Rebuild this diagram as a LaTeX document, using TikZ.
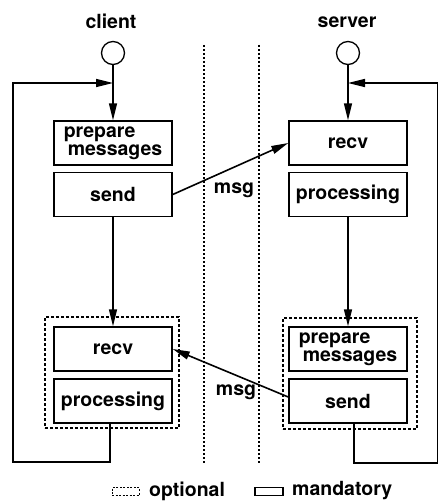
\documentclass[tikz,border=0pt]{standalone}
\usepackage{fontspec}
\setmainfont{TeX Gyre Heros}
\usetikzlibrary{arrows.meta}
\begin{document}
\begin{tikzpicture}[x=1pt,y=-1pt,
  font=\fontsize{19.5}{18}\selectfont\bfseries,
  stepbox/.style={draw, line width=1.5pt, minimum width=118pt, minimum height=44pt, inner sep=0pt, align=left},
  optbox/.style={draw, line width=1.3pt, dash pattern=on 3pt off 2pt, minimum width=134pt, minimum height=111pt, inner sep=0pt},
  startnode/.style={draw, line width=1.3pt, circle, minimum size=23pt, inner sep=0pt},
  conn/.style={line width=1.6pt, -{Triangle[length=17pt,width=8pt]}},
  divider/.style={line width=1.2pt, dash pattern=on 2pt off 2pt},
  lbl/.style={inner sep=0pt}]
\useasboundingbox (0,0) rectangle (440,503);

% column titles and start points
\node[lbl] (tclient) at (111,21) {client};
\node[lbl] (tserver) at (347,22) {server};
\node[startnode] (ccirc) at (113,53) {};
\node[startnode] (scirc) at (348,53) {};

% dividers between client and server
\coordinate (d1top) at (204,45);
\coordinate (d1bot) at (204,463);
\coordinate (d2top) at (259,45);
\coordinate (d2bot) at (259,463);
\draw[divider] (d1top) -- (d1bot);
\draw[divider] (d2top) -- (d2bot);

% optional groups
\node[optbox] (copt) at (112,372.5) {};
\node[optbox] (sopt) at (350,373.5) {};

% client steps
\node[stepbox] (cprep) at (113,143) {prepare\\\hspace{4pt}messages};
\node[stepbox] (csend) at (113,194.5) {send};
\node[stepbox] (crecv) at (113,349) {recv};
\node[stepbox] (cproc) at (113,401) {processing};

% server steps
\node[stepbox] (srecv) at (348,143) {recv};
\node[stepbox] (sproc) at (348,194.5) {processing};
\node[stepbox] (sprep) at (348,349) {prepare\\\hspace{4pt}messages};
\node[stepbox] (ssend) at (348,401) {send};

% loop corners
\coordinate (cjoin) at (113,83);
\coordinate (cloop) at (13,462);
\coordinate (sjoin) at (348,83);
\coordinate (sloop) at (437.5,463);

% flow connectors
\draw[conn] (ccirc) -- (cprep);
\draw[conn] (csend) -- (crecv);
\draw[conn] ([xshift=-3pt]cproc.south) |- (cloop) |- (cjoin);
\draw[conn] (scirc) -- (srecv);
\draw[conn] (sproc) -- (sprep);
\draw[conn] ([xshift=6pt]ssend.south) |- (sloop) |- (sjoin);

% messages
\draw[conn] (csend.east) -- (srecv.west);
\draw[conn] ([yshift=4pt]ssend.west) -- (crecv.east);
\node[lbl] (msg1) at (234,190) {msg};
\node[lbl] (msg2) at (236,392) {msg};

% legend
\node[draw, line width=1pt, dash pattern=on 2pt off 1.5pt, minimum width=27pt, minimum height=8pt, inner sep=0pt] (legopt) at (125.5,491.5) {};
\node[lbl, anchor=west] (legopttxt) at (149,491) {optional};
\node[draw, line width=1.3pt, minimum width=28pt, minimum height=8pt, inner sep=0pt] (legman) at (269,491.5) {};
\node[lbl, anchor=west] (legmantxt) at (292,491) {mandatory};
\end{tikzpicture}
\end{document}
